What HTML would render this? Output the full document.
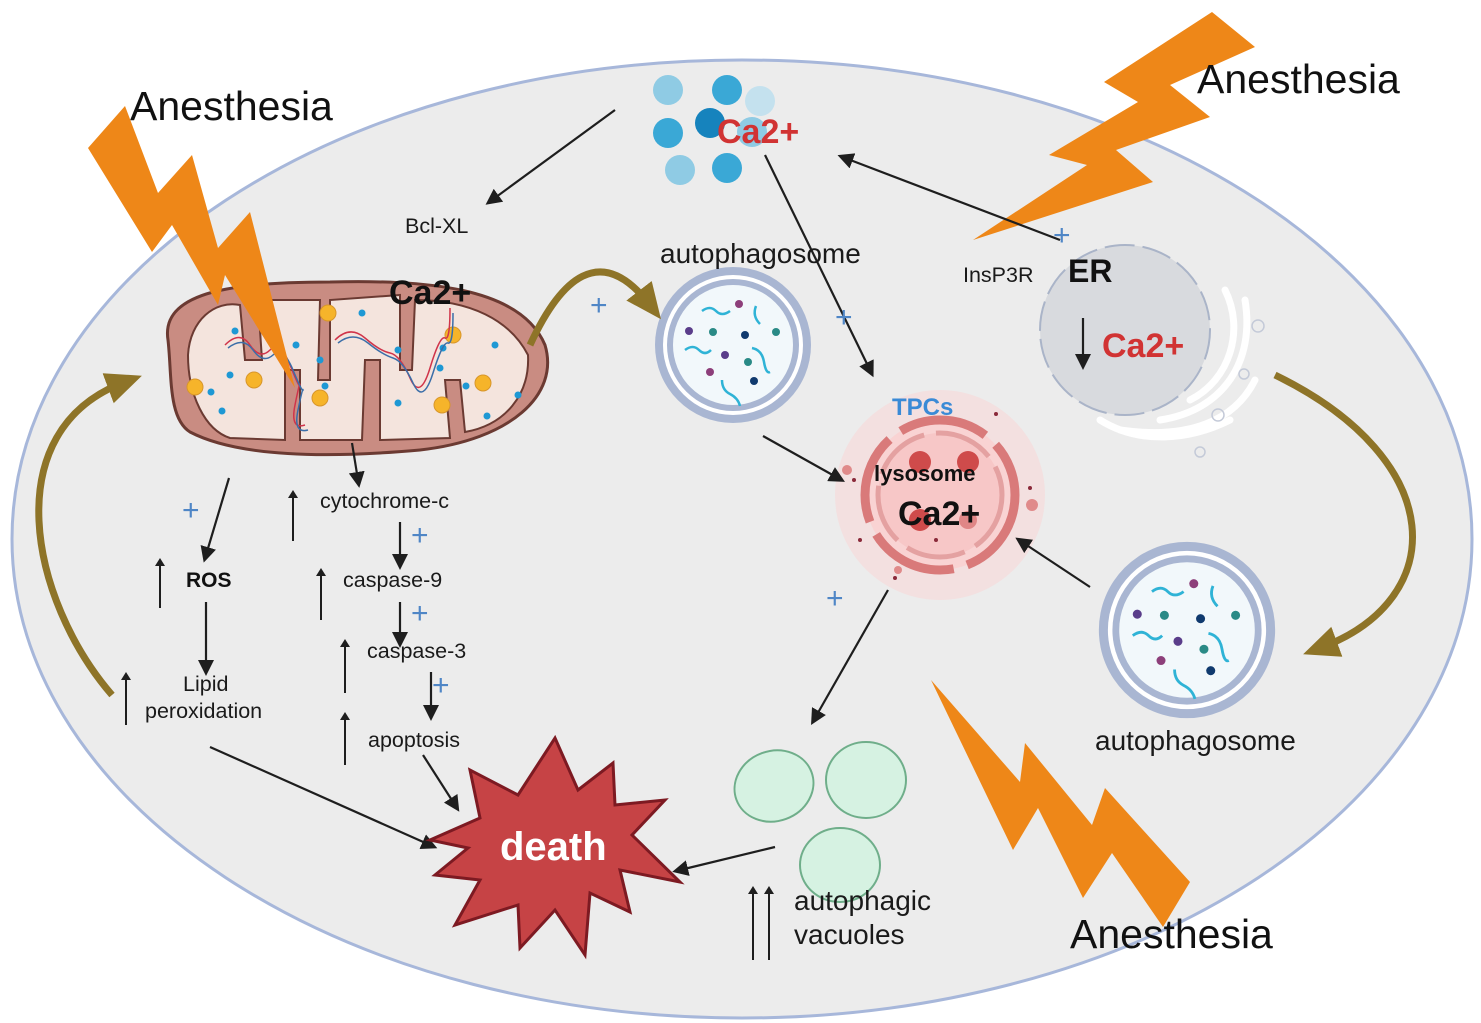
<!DOCTYPE html>
<html><head><meta charset="utf-8"><style>
html,body{margin:0;padding:0;background:#fff}
svg{display:block}
text{font-family:"Liberation Sans",Arial,sans-serif}
</style></head><body>
<svg width="1481" height="1023" viewBox="0 0 1481 1023" xmlns="http://www.w3.org/2000/svg">
<defs>
<marker id="ab" markerWidth="16" markerHeight="16" refX="8" refY="8" orient="auto" markerUnits="userSpaceOnUse" viewBox="0 0 16 16"><path d="M0,0 L16,8 L0,16 z" fill="#1e1e1e"/></marker>
<marker id="ao" markerWidth="36" markerHeight="36" refX="18" refY="18" orient="auto" markerUnits="userSpaceOnUse" viewBox="0 0 36 36"><path d="M0,2 L36,18 L0,34 z" fill="#8e7428"/></marker>
<marker id="as" markerWidth="8" markerHeight="10" refX="4" refY="5" orient="auto" markerUnits="userSpaceOnUse" viewBox="0 0 8 10"><path d="M0,0 L8,5 L0,10 z" fill="#1e1e1e"/></marker>
</defs>
<!-- cell -->
<ellipse cx="742" cy="539" rx="730" ry="479" fill="#ececec" stroke="#a7b7da" stroke-width="3"/>

<polygon fill="#ee8718" points="973,240 1153,182 1116,150 1210,117 1170,85 1255,47 1212,12 1104,82 1138,102 1049,155 1087,165"/>
<polygon fill="#ee8718" points="931,680 1013,850 1038,808 1083,898 1112,853 1163,927 1190,882 1105,788 1092,825 1025,743 1020,782"/>

<text x="130" y="120" font-size="41" fill="#111">Anesthesia</text>
<text x="1197" y="93" font-size="41" fill="#111">Anesthesia</text>
<text x="1070" y="948" font-size="41" fill="#111">Anesthesia</text>

<!-- mitochondrion -->
<path d="M168,340 C160,290 240,282 330,282 C420,280 520,285 545,345 C560,395 510,440 420,450 C330,458 240,458 190,432 C168,418 172,375 168,340 Z" fill="#c98c82" stroke="#6b3a32" stroke-width="3"/>
<path d="M188,355 C190,320 215,300 240,305 L245,360 L262,360 L258,300 L320,300 L318,380 L330,380 L330,300 L400,295 L400,370 L412,370 L415,300 C470,300 510,320 528,355 C530,395 505,425 465,432 L460,380 L445,380 L450,438 L380,440 L380,360 L365,360 L362,440 L300,440 L300,370 L285,370 L285,440 L230,438 C205,430 188,395 188,355 Z" fill="#f4e4dd" stroke="#6b3a32" stroke-width="2"/>
<g fill="#f6b42a" stroke="#d8962a" stroke-width="1">
<circle cx="195" cy="387" r="8"/><circle cx="254" cy="380" r="8"/><circle cx="320" cy="398" r="8"/><circle cx="328" cy="313" r="8"/><circle cx="453" cy="335" r="8"/><circle cx="483" cy="383" r="8"/><circle cx="442" cy="405" r="8"/>
</g>
<g fill="#1e98d4">
<circle cx="235" cy="331" r="3.5"/><circle cx="230" cy="375" r="3.5"/><circle cx="222" cy="411" r="3.5"/><circle cx="296" cy="345" r="3.5"/><circle cx="320" cy="360" r="3.5"/><circle cx="325" cy="386" r="3.5"/><circle cx="362" cy="313" r="3.5"/><circle cx="398" cy="350" r="3.5"/><circle cx="443" cy="348" r="3.5"/><circle cx="440" cy="368" r="3.5"/><circle cx="398" cy="403" r="3.5"/><circle cx="495" cy="345" r="3.5"/><circle cx="466" cy="386" r="3.5"/><circle cx="518" cy="395" r="3.5"/><circle cx="487" cy="416" r="3.5"/><circle cx="211" cy="392" r="3.5"/>
</g>
<g fill="none" stroke-width="1.5">
<path d="M225,345 q15,-15 25,0 t20,5 t20,15 t10,20 t-5,20 t10,20" stroke="#d0344a"/>
<path d="M228,348 q15,-12 25,2 t20,5 t20,15 t10,20 t-5,20 t10,20" stroke="#3b6ea8"/>
<path d="M335,340 q15,-15 30,-2 t25,15 t20,25 t20,-10 t15,-30 t5,-30" stroke="#d0344a"/>
<path d="M338,343 q15,-12 30,0 t25,15 t20,25 t20,-10 t15,-30 t5,-30" stroke="#3b6ea8"/>
</g>
<!-- top-left bolt over mito -->
<polygon fill="#ee8718" points="125,106 158,193 192,155 218,248 250,212 295,388 225,275 218,305 172,225 152,252 88,148"/>
<text x="389" y="304" font-size="34" font-weight="bold" fill="#111">Ca2+</text>

<!-- Ca2+ cluster -->
<g>
<circle cx="668" cy="90" r="15" fill="#8fcbe4"/>
<circle cx="727" cy="90" r="15" fill="#3aa8d6"/>
<circle cx="760" cy="101" r="15" fill="#c4e1ee"/>
<circle cx="668" cy="133" r="15" fill="#3aa8d6"/>
<circle cx="710" cy="123" r="15" fill="#1683bd"/>
<circle cx="752" cy="132" r="15" fill="#8fcbe4"/>
<circle cx="680" cy="170" r="15" fill="#8fcbe4"/>
<circle cx="727" cy="168" r="15" fill="#3aa8d6"/>
</g>
<text x="717" y="143" font-size="34" font-weight="bold" fill="#d13333">Ca2+</text>

<!-- autophagosomes -->
<g id="ap">
<circle cx="733" cy="345" r="78" fill="#a9b6d2"/>
<circle cx="733" cy="345" r="70" fill="#fff"/>
<circle cx="733" cy="345" r="66" fill="#a9b6d2"/>
<circle cx="733" cy="345" r="60" fill="#f2f8fb"/>
<g fill="none" stroke="#2fb3d6" stroke-width="2.5">
<path d="M702,311 q8,-6 14,0 t14,0"/><path d="M756,306 q-4,10 4,18"/><path d="M685,350 q8,-6 14,0 t12,0"/><path d="M752,348 q10,2 12,14 t6,10"/><path d="M722,380 q0,10 8,14 t10,12"/>
</g>
<circle cx="739" cy="304" r="4" fill="#8d3f7a"/><circle cx="689" cy="331" r="4" fill="#5a3d8a"/><circle cx="713" cy="332" r="4" fill="#2a8a86"/><circle cx="745" cy="335" r="4" fill="#103a6e"/><circle cx="776" cy="332" r="4" fill="#2a8a86"/><circle cx="725" cy="355" r="4" fill="#5a3d8a"/><circle cx="748" cy="362" r="4" fill="#2a8a86"/><circle cx="710" cy="372" r="4" fill="#8d3f7a"/><circle cx="754" cy="381" r="4" fill="#103a6e"/>
</g>
<use href="#ap" transform="translate(1187,630) scale(1.13) translate(-733,-345)"/>

<!-- ER -->
<g fill="none" stroke="#fff" stroke-width="7" stroke-linecap="round">
<path d="M1190,400 C1230,380 1245,330 1225,290"/>
<path d="M1160,420 C1225,410 1255,360 1245,300"/>
<path d="M1120,430 C1190,440 1235,420 1255,380"/>
<path d="M1100,420 C1140,445 1190,440 1230,420"/>
</g>
<g fill="none" stroke="#c4cad8" stroke-width="1.5">
<circle cx="1258" cy="326" r="6"/><circle cx="1244" cy="374" r="5"/><circle cx="1200" cy="452" r="5"/><circle cx="1218" cy="415" r="6"/>
</g>
<circle cx="1125" cy="330" r="85" fill="#d8dade" stroke="#aab4c8" stroke-width="2" stroke-dasharray="30,8"/>
<text x="1068" y="282" font-size="32" font-weight="bold" fill="#111">ER</text>
<text x="1102" y="357" font-size="34" font-weight="bold" fill="#d13333">Ca2+</text>

<!-- lysosome -->
<circle cx="940" cy="495" r="105" fill="#f6dcdc" opacity="0.7"/>
<circle cx="940" cy="495" r="75" fill="#f9d3d3" stroke="#d97a7a" stroke-width="9" stroke-dasharray="90,14"/>
<circle cx="940" cy="495" r="62" fill="#f7c7c7" stroke="#e4a1a1" stroke-width="5" stroke-dasharray="60,12"/>
<circle cx="920" cy="462" r="11" fill="#cf4b4b"/><circle cx="968" cy="462" r="11" fill="#cf4b4b"/><circle cx="920" cy="520" r="11" fill="#cf4b4b"/><circle cx="968" cy="520" r="9" fill="#e08686"/>
<circle cx="847" cy="470" r="5" fill="#e08a8a"/><circle cx="1032" cy="505" r="6" fill="#e08a8a"/><circle cx="898" cy="570" r="4" fill="#e08a8a"/>
<circle cx="854" cy="480" r="2" fill="#8a2a3a"/><circle cx="1030" cy="488" r="2" fill="#8a2a3a"/><circle cx="860" cy="540" r="2" fill="#8a2a3a"/><circle cx="895" cy="578" r="2" fill="#8a2a3a"/><circle cx="996" cy="414" r="2" fill="#8a2a3a"/><circle cx="936" cy="540" r="2" fill="#8a2a3a"/>
<text x="892" y="415" font-size="24" font-weight="bold" fill="#3a8ad6">TPCs</text>
<text x="874" y="481" font-size="22" font-weight="bold" fill="#111">lysosome</text>
<text x="898" y="525" font-size="34" font-weight="bold" fill="#111">Ca2+</text>

<!-- vacuoles -->
<g fill="#d6f2e2" stroke="#6fae8a" stroke-width="2">
<ellipse cx="774" cy="786" rx="40" ry="35" transform="rotate(-20 774 786)"/>
<ellipse cx="866" cy="780" rx="40" ry="38"/>
<ellipse cx="840" cy="865" rx="40" ry="37"/>
</g>

<!-- arrows (black) -->
<g stroke="#1e1e1e" stroke-width="2.2" fill="none">
<line x1="615" y1="110" x2="492" y2="200" marker-end="url(#ab)"/>
<line x1="765" y1="155" x2="870" y2="370" marker-end="url(#ab)"/>
<line x1="1060" y1="240" x2="845" y2="158" marker-end="url(#ab)"/>
<line x1="763" y1="436" x2="838" y2="478" marker-end="url(#ab)"/>
<line x1="1090" y1="587" x2="1022" y2="542" marker-end="url(#ab)"/>
<line x1="888" y1="590" x2="815" y2="718" marker-end="url(#ab)"/>
<line x1="775" y1="847" x2="680" y2="870" marker-end="url(#ab)"/>
<line x1="210" y1="747" x2="430" y2="845" marker-end="url(#ab)"/>
<line x1="423" y1="755" x2="455" y2="805" marker-end="url(#ab)"/>
<line x1="229" y1="478" x2="206" y2="555" marker-end="url(#ab)"/>
<line x1="206" y1="602" x2="206" y2="668" marker-end="url(#ab)"/>
<line x1="352" y1="443" x2="358" y2="480" marker-end="url(#ab)"/>
<line x1="400" y1="522" x2="400" y2="562" marker-end="url(#ab)"/>
<line x1="400" y1="602" x2="400" y2="640" marker-end="url(#ab)"/>
<line x1="431" y1="672" x2="431" y2="713" marker-end="url(#ab)"/>
<line x1="1083" y1="318" x2="1083" y2="362" marker-end="url(#ab)"/>
</g>
<!-- up arrows -->
<g stroke="#1e1e1e" stroke-width="2" fill="none">
<line x1="160" y1="608" x2="160" y2="562" marker-end="url(#as)"/>
<line x1="126" y1="725" x2="126" y2="676" marker-end="url(#as)"/>
<line x1="293" y1="541" x2="293" y2="494" marker-end="url(#as)"/>
<line x1="321" y1="620" x2="321" y2="572" marker-end="url(#as)"/>
<line x1="345" y1="693" x2="345" y2="643" marker-end="url(#as)"/>
<line x1="345" y1="765" x2="345" y2="716" marker-end="url(#as)"/>
<line x1="753" y1="960" x2="753" y2="890" marker-end="url(#as)"/>
<line x1="769" y1="960" x2="769" y2="890" marker-end="url(#as)"/>
</g>

<!-- olive curved arrows -->
<g stroke="#8e7428" stroke-width="7" fill="none">
<path d="M112,695 C30,600 -5,430 125,382" marker-end="url(#ao)"/>
<path d="M530,345 C560,280 600,240 650,305" marker-end="url(#ao)"/>
<path d="M1275,375 C1450,460 1450,600 1320,648" marker-end="url(#ao)"/>
</g>

<!-- plus signs -->
<g fill="#4f86c6" font-size="30" font-family="Liberation Sans,sans-serif">
<text x="590" y="315">+</text>
<text x="835" y="327">+</text>
<text x="1053" y="245">+</text>
<text x="182" y="520">+</text>
<text x="411" y="545">+</text>
<text x="411" y="623">+</text>
<text x="432" y="695">+</text>
<text x="826" y="608">+</text>
</g>

<!-- labels -->
<g fill="#1a1a1a" font-size="21.5">
<text x="405" y="233">Bcl-XL</text>
<text x="320" y="508">cytochrome-c</text>
<text x="343" y="587">caspase-9</text>
<text x="367" y="658">caspase-3</text>
<text x="368" y="747">apoptosis</text>
<text x="183" y="691">Lipid</text>
<text x="145" y="718">peroxidation</text>
<text x="963" y="282">InsP3R</text>
<text x="794" y="910" font-size="28">autophagic</text>
<text x="794" y="944" font-size="28">vacuoles</text>
<text x="660" y="263" font-size="28">autophagosome</text>
<text x="1095" y="750" font-size="28">autophagosome</text>
</g>
<text x="186" y="587" font-size="21" font-weight="bold" fill="#111">ROS</text>

<!-- death star -->
<polygon fill="#c64345" stroke="#7d1a22" stroke-width="3" points="555,738 578,790 613,763 615,805 665,800 632,835 680,882 620,870 630,912 590,893 585,955 555,910 520,948 518,905 455,925 480,880 435,875 468,848 430,840 480,818 470,770 518,795"/>
<text x="500" y="860" font-size="40" font-weight="bold" fill="#fff">death</text>
</svg>
</body></html>
